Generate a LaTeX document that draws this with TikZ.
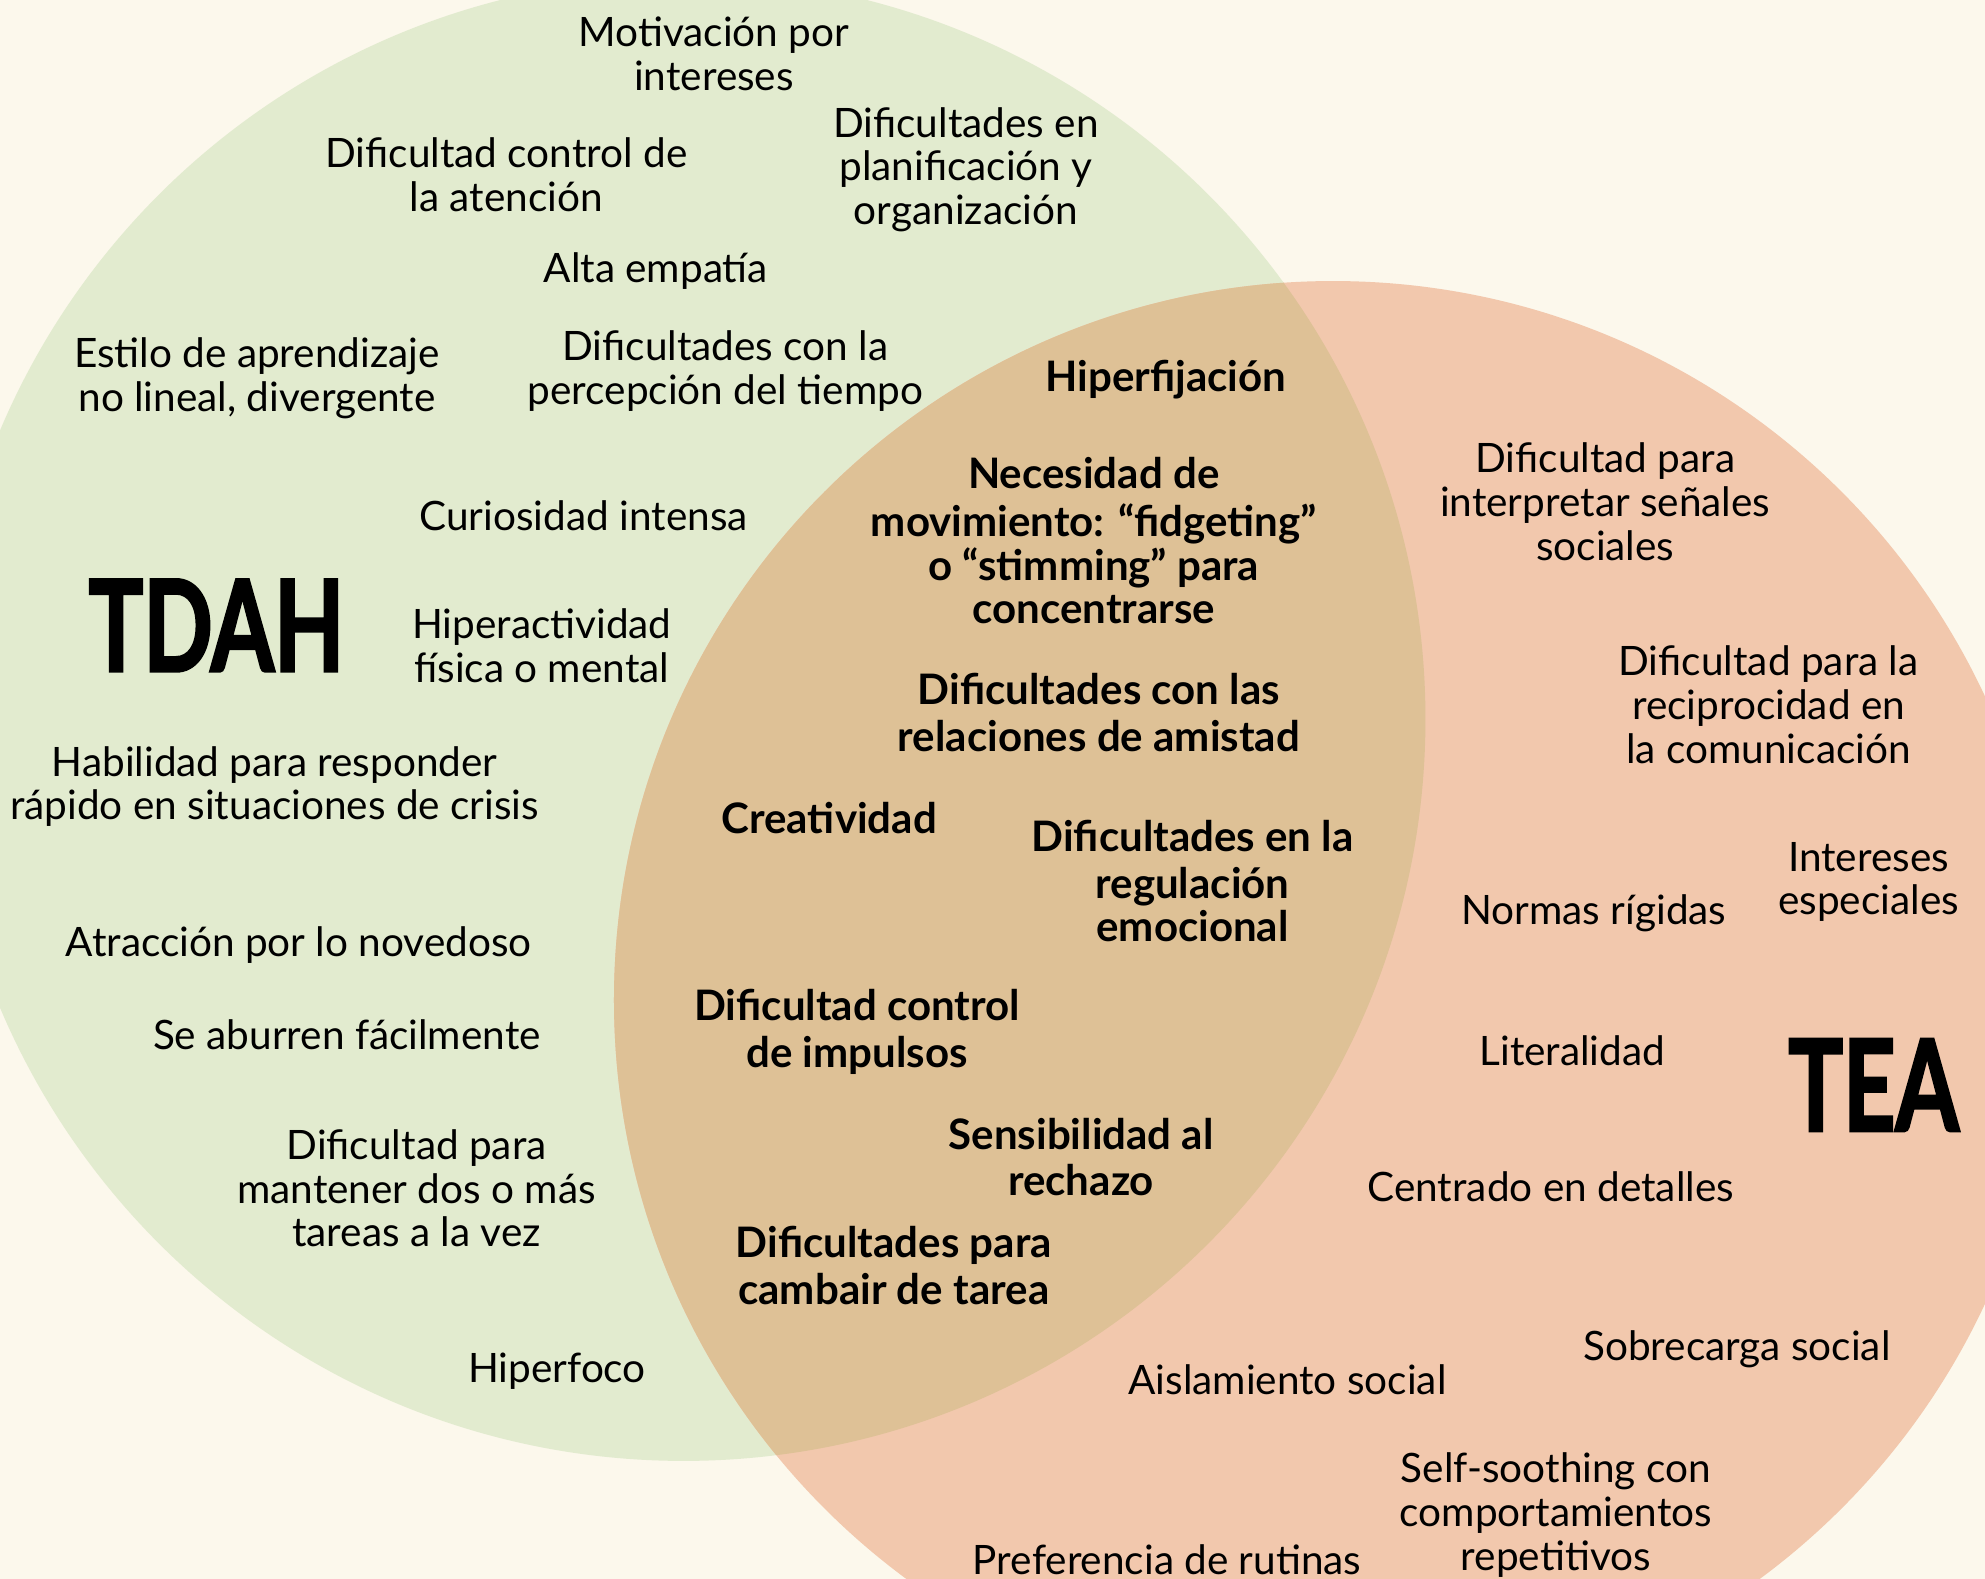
\documentclass[tikz,border=0pt]{standalone}
\usepackage{fontspec}
\setmainfont{Lato}
\newfontfamily\titlefont{Lato}[BoldFeatures={FakeBold=2.5}]
\definecolor{bgc}{HTML}{FCF8EC}
\definecolor{grn}{HTML}{E2EBCF}
\definecolor{org}{HTML}{F2C8AD}
\definecolor{ovl}{HTML}{DEC196}
\begin{document}
\begin{tikzpicture}[x=0.5pt,y=-0.5pt,
  txt/.style={inner sep=0pt, align=center, yshift=-2.5pt, font=\fontsize{16}{17.25}\selectfont},
  btxt/.style={inner sep=0pt, align=center, yshift=-2.5pt, font=\fontsize{16.6}{17.25}\selectfont\bfseries},
  ttl/.style={inner sep=0pt, font=\titlefont\bfseries\fontsize{50}{50}\selectfont}]
\clip (0,0) rectangle (1568,1247);
\fill[bgc] (0,0) rectangle (1568,1247);
\fill[grn] (540,568) circle[radius=586];
\fill[org] (1053,790) circle[radius=568];
\begin{scope}
  \clip (540,568) circle[radius=586];
  \fill[ovl] (1053,790) circle[radius=568];
\end{scope}
% titles
\node[ttl] (tdah) at (171,494) {\scalebox{0.72}[1]{TDAH}};
\node[ttl] (tea) at (1480,857) {\scalebox{0.72}[1]{TEA}};
% TDAH only
\node[txt] (t1) at (564,42) {\strut Motivación por\\intereses\strut};
\node[txt] (t2) at (400,138) {\strut Dificultad control de\\la atención\strut};
\node[txt] (t3) at (763,131) {\strut Dificultades en\\planificación y\\organización\strut};
\node[txt] (t4) at (518,211) {\strut Alta empatía\strut};
\node[txt] (t5) at (203,296) {\strut Estilo de aprendizaje\\no lineal, divergente\strut};
\node[txt] (t6) at (573,290) {\strut Dificultades con la\\percepción del tiempo\strut};
\node[txt] (t7) at (461,407) {\strut Curiosidad intensa\strut};
\node[txt] (t8) at (428,510) {\strut Hiperactividad\\física o mental\strut};
\node[txt] (t9) at (217,618.5) {\strut Habilidad para responder\\rápido en situaciones de crisis\strut};
\node[txt] (t10) at (236,744) {\strut Atracción por lo novedoso\strut};
\node[txt] (t11) at (274,817) {\strut Se aburren fácilmente\strut};
\node[txt] (t12) at (329,938.5) {\strut Dificultad para\\mantener dos o más\\tareas a la vez\strut};
\node[txt] (t13) at (440,1080) {\strut Hiperfoco\strut};
% shared
\node[btxt] (s1) at (921,297) {\strut Hiperfijación\strut};
\node[btxt] (s2) at (864,427) {\strut Necesidad de\\movimiento: “fidgeting”\\o “stimming” para\\concentrarse\strut};
\node[btxt] (s3) at (868,563) {\strut Dificultades con las\\relaciones de amistad\strut};
\node[btxt] (s4) at (655,646) {\strut Creatividad\strut};
\node[btxt] (s5) at (942,696) {\strut Dificultades en la\\regulación\\emocional\strut};
\node[btxt] (s6) at (677,812.5) {\strut Dificultad control\\de impulsos\strut};
\node[btxt] (s7) at (854,914) {\strut Sensibilidad al\\rechazo\strut};
\node[btxt] (s8) at (706,999.5) {\strut Dificultades para\\cambair de tarea\strut};
% TEA only
\node[txt] (e1) at (1268,396) {\strut Dificultad para\\interpretar señales\\sociales\strut};
\node[txt] (e2) at (1397,556.5) {\strut Dificultad para la\\reciprocidad en\\la comunicación\strut};
\node[txt] (e3) at (1476,693.5) {\strut Intereses\\especiales\strut};
\node[txt] (e4) at (1259,718) {\strut Normas rígidas\strut};
\node[txt] (e5) at (1242,830) {\strut Literalidad\strut};
\node[txt] (e6) at (1225,937) {\strut Centrado en detalles\strut};
\node[txt] (e7) at (1372,1063) {\strut Sobrecarga social\strut};
\node[txt] (e8) at (1017,1090) {\strut Aislamiento social\strut};
\node[txt] (e9) at (1229,1194) {\strut Self-soothing con\\comportamientos\\repetitivos\strut};
\node[txt] (e10) at (922,1232) {\strut Preferencia de rutinas\strut};
\end{tikzpicture}
\end{document}
